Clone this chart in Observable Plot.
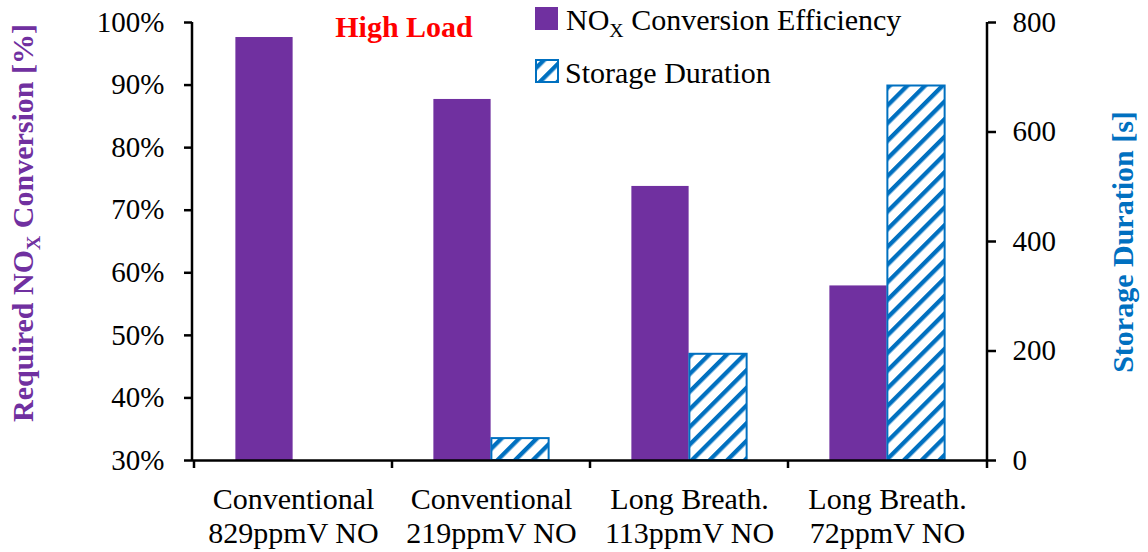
<!DOCTYPE html>
<html><head><meta charset="utf-8">
<script src="https://cdn.jsdelivr.net/npm/d3@7"></script>
<script src="https://cdn.jsdelivr.net/npm/@observablehq/plot@0.6"></script>
<style>html,body{margin:0;padding:0;background:#fff;overflow:hidden}</style>
</head><body><div id="chart"></div>
<script>
// ---- data ----
const categories = [
  "Conventional\n829ppmV NO",
  "Conventional\n219ppmV NO",
  "Long Breath.\n113ppmV NO",
  "Long Breath.\n72ppmV NO"
];
const noxConversion = [97.6, 87.7, 73.8, 57.9];      // %
const storageDuration = [null, 40, 194, 684];        // s
const percentTicks = [30, 40, 50, 60, 70, 80, 90, 100];
const storageTicks = [0, 200, 400, 600, 800];
const chartNote = "High Load";
const leftTitle = ["Required NO", "X", " Conversion [%]"];
const rightTitle = "Storage Duration [s]";
const legendNox = ["NO", "X", " Conversion Efficiency"];
const legendStorage = "Storage Duration";

// ---- style ----
const PURPLE = "#7030A0", BLUE = "#0070C0", RED = "#FF0000";
const FONT = "'Liberation Serif','Times New Roman',serif";
const W = 1148, H = 552, mL = 192, mR = 161, mT = 22, mB = 92;

const pMin = percentTicks[0], pMax = percentTicks[percentTicks.length - 1];
const sMax = storageTicks[storageTicks.length - 1];
const toPct = s => pMin + s / sMax * (pMax - pMin);
const fromPct = p => (p - pMin) / (pMax - pMin) * sMax;

const noxRows = categories.map((c, i) => ({category: c, value: noxConversion[i]}));
const storageRows = categories.map((c, i) => ({category: c, seconds: storageDuration[i]}))
  .filter(d => d.seconds != null);

const band = (W - mL - mR) / categories.length;
const barW = 58;
const outer = (band - 2 * barW) / 2;

const axisFrame = (index, scales, values, dims) => {
  const g = d3.create("svg:g").attr("stroke", "#000").attr("stroke-width", 2.5);
  const left = dims.marginLeft, right = dims.width - dims.marginRight;
  const top = dims.marginTop, bottom = dims.height - dims.marginBottom;
  const edges = categories.map(c => scales.x(c)).concat([right]);
  g.selectAll("line.t").data(edges).join("line").attr("class", "t")
    .attr("x1", d => d).attr("x2", d => d).attr("y1", bottom).attr("y2", bottom + 8);
  g.append("line").attr("x1", left).attr("x2", left).attr("y1", top).attr("y2", bottom);
  g.append("line").attr("x1", right).attr("x2", right).attr("y1", top).attr("y2", bottom);
  return g.node();
};

const svg = Plot.plot({
  width: W, height: H,
  marginLeft: mL, marginRight: mR, marginTop: mT, marginBottom: mB,
  style: {fontFamily: FONT, fontSize: "29px", color: "#000", background: "#fff", overflow: "visible"},
  x: {domain: categories, padding: 0},
  y: {domain: [pMin, pMax]},
  marks: [
    Plot.barY(noxRows, {x: "category", y1: pMin, y2: "value", fill: PURPLE,
      insetLeft: outer, insetRight: band - outer - barW}),
    Plot.barY(storageRows, {x: "category", y1: pMin, y2: d => toPct(d.seconds),
      fill: "url(#hatch)", stroke: BLUE, strokeWidth: 2,
      insetLeft: outer + barW, insetRight: outer}),
    Plot.ruleY([pMin], {stroke: "#000", strokeWidth: 2.5}),
    axisFrame,
    Plot.axisY(percentTicks, {anchor: "left", tickFormat: d => d + "%", tickSize: 8,
      tickPadding: 20, strokeWidth: 2.5, fontSize: 29, label: null}),
    Plot.axisY(storageTicks.map(toPct), {anchor: "right",
      tickFormat: p => String(Math.round(fromPct(p))), tickSize: 8,
      tickPadding: 17, strokeWidth: 2.5, fontSize: 29, label: null}),
    Plot.axisX({tickSize: 0, tickPadding: 24, fontSize: 30, lineHeight: 1.15, label: null})
  ]
});

const s = d3.select(svg);
const defs = s.insert("defs", ":first-child");
const pat = defs.append("pattern").attr("id", "hatch").attr("patternUnits", "userSpaceOnUse")
  .attr("width", 12.5).attr("height", 12.5).attr("patternTransform", "rotate(45)");
pat.append("rect").attr("width", 12.5).attr("height", 12.5).attr("fill", "#fff");
pat.append("rect").attr("width", 4.3).attr("height", 12.5).attr("fill", BLUE);

function subText(parent, parts, size, anchor) {
  const t = parent.append("text").attr("font-family", FONT).attr("font-size", size)
    .attr("text-anchor", anchor);
  t.append("tspan").text(parts[0]);
  t.append("tspan").attr("font-size", size * 0.66).attr("dy", size * 0.22).text(parts[1]);
  t.append("tspan").attr("dy", -size * 0.22).text(parts[2]);
  return t;
}

// axis titles
subText(s.append("g").attr("transform", "translate(33,223) rotate(-90)"), leftTitle, 30, "middle")
  .attr("font-weight", "bold").attr("fill", PURPLE);
s.append("text").attr("transform", "translate(1133,242) rotate(-90)")
  .attr("text-anchor", "middle").attr("font-family", FONT).attr("font-size", 30)
  .attr("font-weight", "bold").attr("fill", BLUE).text(rightTitle);

// note
s.append("text").attr("x", 404).attr("y", 37).attr("text-anchor", "middle")
  .attr("font-family", FONT).attr("font-size", 30).attr("font-weight", "bold")
  .attr("fill", RED).text(chartNote);

// legend
const lg = s.append("g");
lg.append("rect").attr("x", 535).attr("y", 7).attr("width", 23).attr("height", 23).attr("fill", PURPLE);
subText(lg.append("g").attr("transform", "translate(566,30)"), legendNox, 30, "start").attr("fill", "#000");
lg.append("rect").attr("x", 536).attr("y", 60).attr("width", 22).attr("height", 22)
  .attr("fill", "url(#hatch)").attr("stroke", BLUE).attr("stroke-width", 2);
lg.append("text").attr("x", 565).attr("y", 83).attr("text-anchor", "start")
  .attr("font-family", FONT).attr("font-size", 30)
  .attr("fill", "#000").text(legendStorage);

document.getElementById("chart").appendChild(svg);
</script>
</body></html>
